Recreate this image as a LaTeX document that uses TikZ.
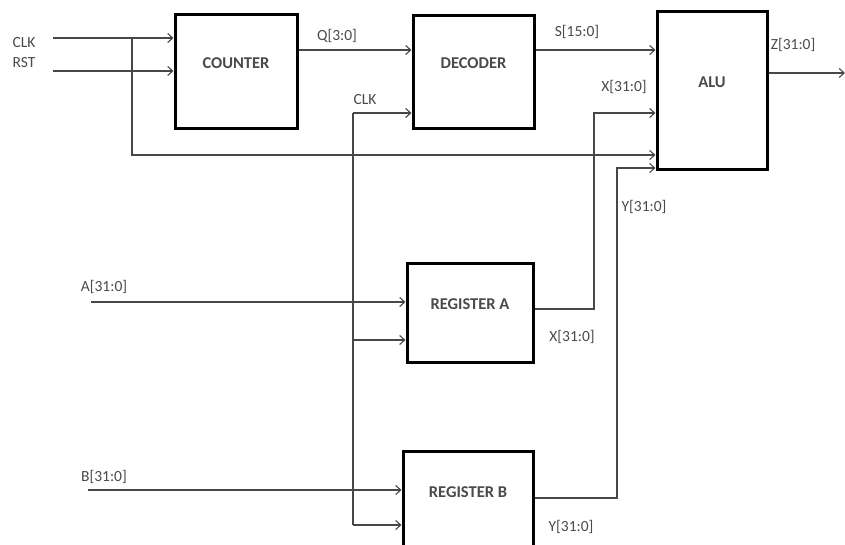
\documentclass[tikz,border=0pt]{standalone}
\usepackage{fontspec}
\setmainfont{Carlito}
\usetikzlibrary{arrows.meta,positioning}
\definecolor{wireGray}{HTML}{474747}
\definecolor{textGray}{HTML}{4A4A4A}
\tikzset{
  block/.style={rectangle, draw=black, line width=3pt, fill=white, align=center, text height=11pt, text depth=18pt, font=\fontsize{16.5}{19}\selectfont\bfseries, text=textGray},
  wire/.style={-{Straight Barb[length=5pt,width=9pt]}, line width=1.1pt, draw=wireGray},
  plainwire/.style={line width=1.1pt, draw=wireGray},
  sig/.style={font=\fontsize{15.5}{18}\selectfont, text=textGray, inner sep=1pt}
}

\begin{document}
\begin{tikzpicture}[x=1pt, y=-1pt]
  \useasboundingbox (0,0) rectangle (845,545);

  % blocks
  \node[block, minimum width=122pt, minimum height=114pt] (counter) at (236,72) {COUNTER};
  \node[block, minimum width=121pt, minimum height=113pt, right=113pt of counter] (decoder) {DECODER};
  \node[block, minimum width=110pt, minimum height=158pt] (alu) at (712,91) {ALU};
  \node[block, minimum width=126pt, minimum height=99pt] (rega) at (470,312.5) {REGISTER A};
  \node[block, minimum width=130pt, minimum height=99pt] (regb) at (468,500.5) {REGISTER B};

  % free ends and bends
  \coordinate (clkin) at (53,38);
  \coordinate (rstin) at (53,71);
  \coordinate (tap) at (132,38);
  \coordinate (rstalu) at ([yshift=-64pt]alu.west);
  \coordinate (qout) at ([yshift=22pt]counter.east);
  \coordinate (sout) at ([yshift=22pt]decoder.east);
  \coordinate (clktop) at (353,113);
  \coordinate (clka) at (353,340);
  \coordinate (clkbot) at (353,525);
  \coordinate (ain) at (91,302);
  \coordinate (bin) at (88,490);
  \coordinate (xout) at ([yshift=3.5pt]rega.east);
  \coordinate (xup) at (594,113);
  \coordinate (yout) at ([yshift=2.5pt]regb.east);
  \coordinate (yup) at (617,168);
  \coordinate (zout) at ([yshift=18pt]alu.east);
  \coordinate (zend) at (845,73);

  % connectors
  \draw[wire] (clkin) -- (clkin -| counter.west);
  \draw[wire] (rstin) -- (rstin -| counter.west);
  \draw[wire] (tap) |- (rstalu);
  \draw[wire] (qout) -- (qout -| decoder.west);
  \draw[wire] (sout) -- (sout -| alu.west);
  \draw[wire] (clktop) -- (clktop -| decoder.west);
  \draw[plainwire] (clktop) -- (clkbot);
  \draw[wire] (clka) -- (clka -| rega.west);
  \draw[wire] (clkbot) -- (clkbot -| regb.west);
  \draw[wire] (ain) -- (ain -| rega.west);
  \draw[wire] (bin) -- (bin -| regb.west);
  \draw[wire] (xout) -| (xup) -- (xup -| alu.west);
  \draw[wire] (yout) -| (yup) -- (yup -| alu.west);
  \draw[wire] (zout) -- (zend);

  % signal names
  \node[sig] (clkname) at (24,43) {CLK};
  \node[sig] (rstname) at (24,63) {RST};
  \node[sig] (qname) at (337,36) {Q[3:0]};
  \node[sig] (sname) at (577,32) {S[15:0]};
  \node[sig] (zname) at (793,45) {Z[31:0]};
  \node[sig] (clkname2) at (365,100) {CLK};
  \node[sig] (xname) at (624,87) {X[31:0]};
  \node[sig] (yname) at (644,207) {Y[31:0]};
  \node[sig] (aname) at (104,287) {A[31:0]};
  \node[sig] (bname) at (104,477) {B[31:0]};
  \node[sig] (xname2) at (572,337) {X[31:0]};
  \node[sig] (yname2) at (571,527) {Y[31:0]};
\end{tikzpicture}
\end{document}
